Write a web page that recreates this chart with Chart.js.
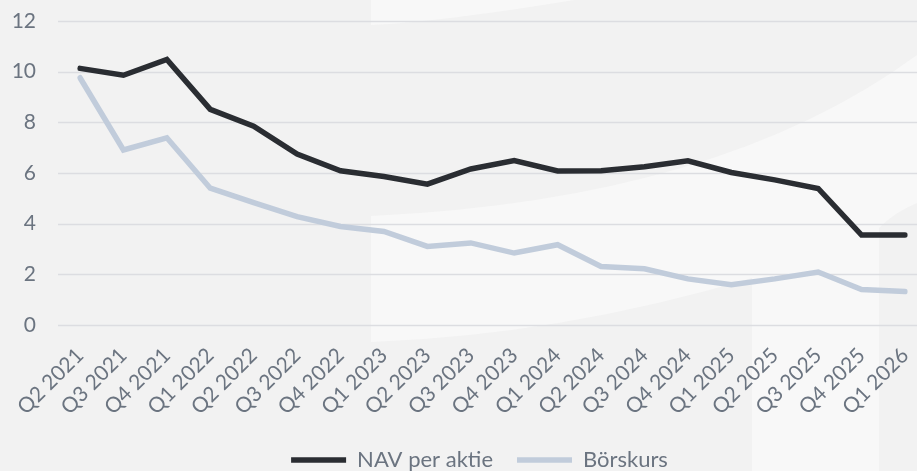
<!DOCTYPE html>
<html>
<head>
<meta charset="utf-8">
<script src="https://cdn.jsdelivr.net/npm/chart.js@4.4.1/dist/chart.umd.min.js"></script>
<style>
  html, body { margin: 0; padding: 0; background: #f2f2f2; overflow: hidden; }
  #wrap { width: 917px; height: 471px; }
</style>
</head>
<body>
<div id="wrap"><canvas id="navChart"></canvas></div>
<script>
// ========== NAV vs Börskurs ==========
const kvartal = ['Q2 2021', 'Q3 2021', 'Q4 2021', 'Q1 2022', 'Q2 2022', 'Q3 2022', 'Q4 2022',
    'Q1 2023', 'Q2 2023', 'Q3 2023', 'Q4 2023', 'Q1 2024', 'Q2 2024', 'Q3 2024', 'Q4 2024',
    'Q1 2025', 'Q2 2025', 'Q3 2025', 'Q4 2025', 'Q1 2026'];
const navPerAktie = [10.13, 9.86, 10.48, 8.51, 7.85, 6.75, 6.09, 5.86, 5.56, 6.16, 6.49,
    6.08, 6.09, 6.25, 6.48, 6.02, 5.73, 5.39, 3.55, 3.55];
const borskurs = [9.76, 6.91, 7.39, 5.40, 4.83, 4.28, 3.89, 3.69, 3.10, 3.24, 2.84,
    3.17, 2.31, 2.22, 1.82, 1.59, 1.82, 2.09, 1.40, 1.32];
const yTicks = [0, 2, 4, 6, 8, 10, 12];

const textColor = '#6b7480';
const gridColor = '#dcdde1';
const fontFamily = 'Lato, "Open Sans", sans-serif';

// bakgrund + stödlinjer (gridlines går ända ut till kanten)
const bakgrundPlugin = {
    id: 'bakgrund',
    beforeDraw(chart) {
        const ctx = chart.ctx;
        const w = chart.width, h = chart.height;
        ctx.save();
        ctx.fillStyle = '#f2f2f2';
        ctx.fillRect(0, 0, w, h);

        ctx.fillStyle = '#f8f8f8';
        ctx.beginPath();
        ctx.moveTo(371, 0);
        ctx.lineTo(574, 0);
        ctx.quadraticCurveTo(440, 22, 371, 25);
        ctx.closePath();
        ctx.fill();

        ctx.beginPath();
        ctx.moveTo(371, 216);
        ctx.quadraticCurveTo(720, 200, 917, 55);
        ctx.lineTo(917, 203);
        ctx.quadraticCurveTo(895, 212, 879, 228);
        ctx.lineTo(879, h);
        ctx.lineTo(752, h);
        ctx.lineTo(752, 278);
        ctx.quadraticCurveTo(560, 335, 371, 342);
        ctx.closePath();
        ctx.fill();

        const y = chart.scales.y;
        ctx.strokeStyle = gridColor;
        ctx.lineWidth = 1.5;
        yTicks.forEach(v => {
            const py = Math.round(y.getPixelForValue(v)) + 0.5;
            ctx.beginPath();
            ctx.moveTo(58, py);
            ctx.lineTo(w, py);
            ctx.stroke();
        });
        ctx.restore();
    },
    afterLayout(chart) {
        const lg = chart.legend;
        if (!lg) return;
        const dx = 27, dy = 471 - lg.bottom + 10;
        lg.left += dx;
        lg.right += dx;
        lg.top += dy;
        lg.bottom += dy;
        if (lg.legendHitBoxes) lg.legendHitBoxes.forEach(b => { b.left += dx; b.top += dy; });
    }
};

const ctx = document.getElementById('navChart').getContext('2d');
const navChart = new Chart(ctx, {
    type: 'line',
    data: {
        labels: kvartal,
        datasets: [
            {
                label: 'NAV per aktie',
                data: navPerAktie,
                borderColor: '#2a2d32',
                backgroundColor: '#2a2d32',
                borderWidth: 5.5,
                borderCapStyle: 'round',
                borderJoinStyle: 'miter',
                pointRadius: 0,
                pointStyle: 'line',
                tension: 0
            },
            {
                label: 'Börskurs',
                data: borskurs,
                borderColor: '#c1ccdb',
                backgroundColor: '#c1ccdb',
                borderWidth: 5.5,
                borderCapStyle: 'round',
                borderJoinStyle: 'miter',
                pointRadius: 0,
                pointStyle: 'line',
                tension: 0
            }
        ]
    },
    options: {
        responsive: true,
        maintainAspectRatio: false,
        animation: false,
        layout: { padding: { top: 21, right: 12, left: 0, bottom: 0 } },
        plugins: {
            legend: {
                position: 'bottom',
                labels: {
                    usePointStyle: true,
                    pointStyleWidth: 55,
                    padding: 24,
                    color: textColor,
                    font: { family: fontFamily, size: 22 }
                }
            },
            tooltip: { enabled: false }
        },
        scales: {
            x: {
                offset: false,
                grid: { display: false, drawTicks: false },
                border: { display: false },
                afterFit: axis => {
                    axis.paddingLeft = 0;
                    axis.paddingRight = 0;
                    const lgH = axis.chart.legend ? axis.chart.legend.height : 0;
                    axis.height = 471 - 325 - lgH;
                },
                ticks: {
                    autoSkip: false,
                    maxRotation: 45,
                    minRotation: 45,
                    padding: 18,
                    color: textColor,
                    font: { family: fontFamily, size: 21 }
                }
            },
            y: {
                min: 0,
                max: 12,
                afterBuildTicks: axis => { axis.ticks = yTicks.map(v => ({ value: v })); },
                afterFit: axis => {
                    axis.width = 80;
                    axis.paddingTop = 0;
                    axis.paddingBottom = 0;
                },
                grid: { display: false, drawTicks: false },
                border: { display: false },
                ticks: {
                    padding: 44,
                    color: textColor,
                    font: { family: fontFamily, size: 21 }
                }
            }
        }
    },
    plugins: [bakgrundPlugin]
});
</script>
</body>
</html>
